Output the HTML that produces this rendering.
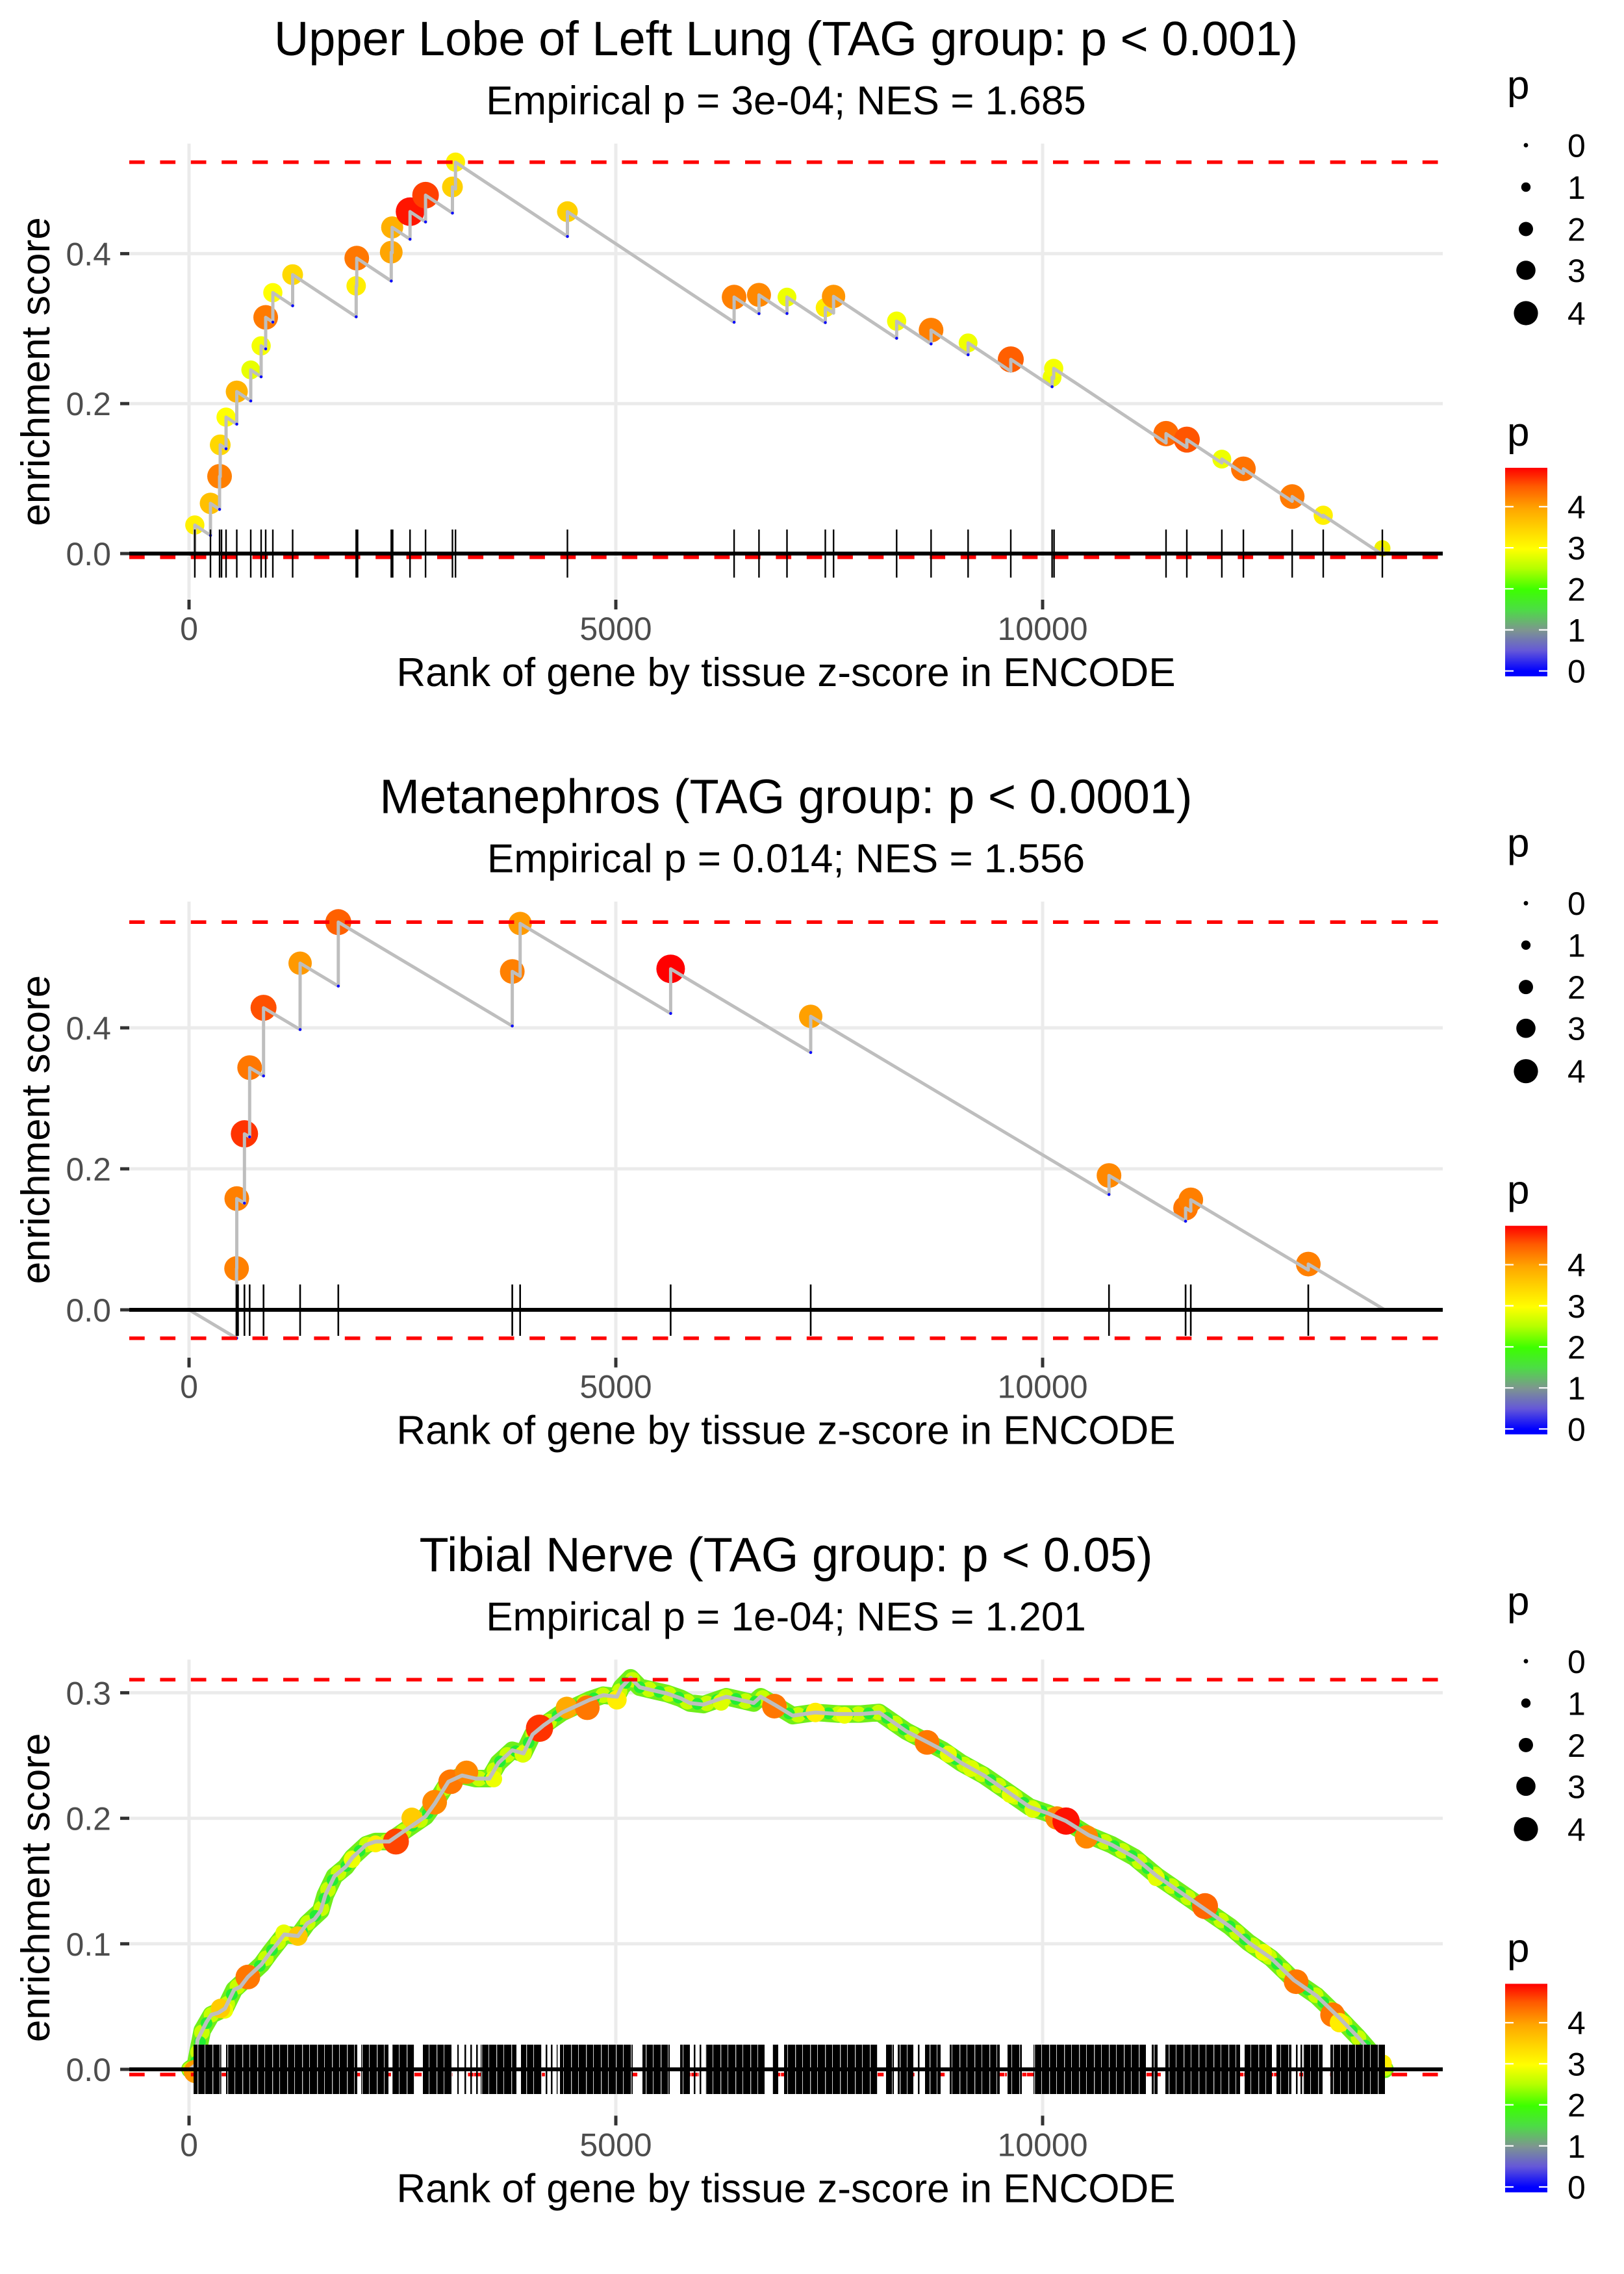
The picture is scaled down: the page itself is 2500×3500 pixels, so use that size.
<!DOCTYPE html>
<html><head><meta charset="utf-8"><style>
html,body{margin:0;padding:0;background:#fff;}
svg{display:block;font-family:"Liberation Sans",Arial,sans-serif;}
</style></head><body>
<svg width="2500" height="3500" viewBox="0 0 2500 3500" xmlns="http://www.w3.org/2000/svg">
<defs>
<linearGradient id="cb" x1="0" y1="1" x2="0" y2="0">
<stop offset="0" stop-color="#0000FF"/><stop offset="0.025" stop-color="#0000FF"/>
<stop offset="0.1235" stop-color="#6558D8"/><stop offset="0.22" stop-color="#7D9590"/>
<stop offset="0.3205" stop-color="#4CDD44"/><stop offset="0.415" stop-color="#3CFF00"/>
<stop offset="0.5175" stop-color="#B5FF00"/><stop offset="0.61" stop-color="#FFFF00"/>
<stop offset="0.7144" stop-color="#FFD000"/><stop offset="0.805" stop-color="#FFA500"/>
<stop offset="0.9113" stop-color="#FF5A00"/><stop offset="1" stop-color="#FF0000"/>
</linearGradient>
<pattern id="wl" patternUnits="userSpaceOnUse" x="0" y="0" width="23" height="200">
<rect x="5" y="0" width="1.3" height="200" fill="#fff"/><rect x="16" y="0" width="1" height="200" fill="#fff"/>
</pattern>
</defs>
<rect width="2500" height="3500" fill="#fff"/>

<!-- ================= TITLES ================= -->
<g>
<text x="1210" y="85" font-size="74" text-anchor="middle" fill="#000">Upper Lobe of Left Lung (TAG group: p &lt; 0.001)</text>
<text x="1210" y="176" font-size="62" text-anchor="middle" fill="#000">Empirical p = 3e-04; NES = 1.685</text>
</g>
<g transform="translate(0,1166.67)">
<text x="1210" y="85" font-size="74" text-anchor="middle" fill="#000">Metanephros (TAG group: p &lt; 0.0001)</text>
<text x="1210" y="176" font-size="62" text-anchor="middle" fill="#000">Empirical p = 0.014; NES = 1.556</text>
</g>
<g transform="translate(0,2333.33)">
<text x="1210" y="85" font-size="74" text-anchor="middle" fill="#000">Tibial Nerve (TAG group: p &lt; 0.05)</text>
<text x="1210" y="176" font-size="62" text-anchor="middle" fill="#000">Empirical p = 1e-04; NES = 1.201</text>
</g>

<!-- vertical gridlines -->
<g stroke="#EBEBEB" stroke-width="5">
<g transform="translate(0,0)">
<line x1="291" y1="221" x2="291" y2="923"/><line x1="948" y1="221" x2="948" y2="923"/><line x1="1605" y1="221" x2="1605" y2="923"/>
</g>
<g transform="translate(0,1166.67)">
<line x1="291" y1="221" x2="291" y2="923"/><line x1="948" y1="221" x2="948" y2="923"/><line x1="1605" y1="221" x2="1605" y2="923"/>
</g>
<g transform="translate(0,2333.33)">
<line x1="291" y1="221" x2="291" y2="923"/><line x1="948" y1="221" x2="948" y2="923"/><line x1="1605" y1="221" x2="1605" y2="923"/>
</g>
</g>

<!-- horizontal gridlines + y labels -->
<g stroke="#EBEBEB" stroke-width="5">
<line x1="199" y1="852" x2="2221" y2="852"/><line x1="199" y1="621.2" x2="2221" y2="621.2"/><line x1="199" y1="390.4" x2="2221" y2="390.4"/>
<line x1="199" y1="2016" x2="2221" y2="2016"/><line x1="199" y1="1799" x2="2221" y2="1799"/><line x1="199" y1="1582" x2="2221" y2="1582"/>
<line x1="199" y1="3185" x2="2221" y2="3185"/><line x1="199" y1="2991.8" x2="2221" y2="2991.8"/><line x1="199" y1="2798.6" x2="2221" y2="2798.6"/><line x1="199" y1="2605.4" x2="2221" y2="2605.4"/>
</g>
<g stroke="#333333" stroke-width="5">
<line x1="185" y1="852" x2="199" y2="852"/><line x1="185" y1="621.2" x2="199" y2="621.2"/><line x1="185" y1="390.4" x2="199" y2="390.4"/>
<line x1="185" y1="2016" x2="199" y2="2016"/><line x1="185" y1="1799" x2="199" y2="1799"/><line x1="185" y1="1582" x2="199" y2="1582"/>
<line x1="185" y1="3185" x2="199" y2="3185"/><line x1="185" y1="2991.8" x2="199" y2="2991.8"/><line x1="185" y1="2798.6" x2="199" y2="2798.6"/><line x1="185" y1="2605.4" x2="199" y2="2605.4"/>
</g>
<g font-size="50" fill="#4D4D4D" text-anchor="end">
<text x="171" y="870">0.0</text><text x="171" y="639.2">0.2</text><text x="171" y="408.4">0.4</text>
<text x="171" y="2034">0.0</text><text x="171" y="1817">0.2</text><text x="171" y="1600">0.4</text>
<text x="171" y="3203">0.0</text><text x="171" y="3009.8">0.1</text><text x="171" y="2816.6">0.2</text><text x="171" y="2623.4">0.3</text>
</g>

<!-- ================= PANEL 1 DATA ================= -->
<g>
<g>
<circle cx="299.9" cy="808.1" r="14.8" fill="#FFF000"/>
<circle cx="324.0" cy="774.7" r="16.5" fill="#FFC000"/>
<circle cx="338.0" cy="733.1" r="19" fill="#FF7F00"/>
<circle cx="339.0" cy="684.7" r="16" fill="#FFD700"/>
<circle cx="348.0" cy="642.0" r="14.8" fill="#FFFF00"/>
<circle cx="364.5" cy="602.7" r="17" fill="#FFB300"/>
<circle cx="386.0" cy="569.3" r="14.5" fill="#E8FF00"/>
<circle cx="402.0" cy="532.3" r="14.8" fill="#F5FF00"/>
<circle cx="409.0" cy="488.5" r="19" fill="#FF7A00"/>
<circle cx="420.0" cy="450.4" r="14.8" fill="#FFFF00"/>
<circle cx="450.5" cy="422.7" r="16" fill="#FFD900"/>
<circle cx="548.3" cy="440.0" r="15" fill="#FFEE00"/>
<circle cx="549.2" cy="397.3" r="19" fill="#FF7700"/>
<circle cx="602.3" cy="388.1" r="17.5" fill="#FFA500"/>
<circle cx="603.7" cy="350.0" r="17" fill="#FFB000"/>
<circle cx="631.2" cy="325.8" r="22" fill="#FF1500"/>
<circle cx="655.1" cy="300.4" r="20.5" fill="#FF4000"/>
<circle cx="696.5" cy="287.7" r="16" fill="#FFD000"/>
<circle cx="701.2" cy="249.6" r="14.8" fill="#FFF000"/>
<circle cx="873.5" cy="325.8" r="16" fill="#FFD000"/>
<circle cx="1130.1" cy="457.3" r="19" fill="#FF8000"/>
<circle cx="1168.4" cy="453.9" r="18.5" fill="#FF8800"/>
<circle cx="1211.5" cy="457.3" r="14.5" fill="#EEFF00"/>
<circle cx="1270.5" cy="473.5" r="14.8" fill="#FFEE00"/>
<circle cx="1283.2" cy="456.2" r="18" fill="#FF9500"/>
<circle cx="1380.3" cy="494.3" r="14.8" fill="#F5FF00"/>
<circle cx="1433.3" cy="508.1" r="19" fill="#FF7F00"/>
<circle cx="1490.3" cy="527.7" r="14.5" fill="#F0FF00"/>
<circle cx="1556.0" cy="553.1" r="20" fill="#FF5F00"/>
<circle cx="1619.6" cy="580.8" r="14.5" fill="#EEFF00"/>
<circle cx="1622.1" cy="567.0" r="14.8" fill="#F5FF00"/>
<circle cx="1795.0" cy="667.4" r="19.5" fill="#FF6A00"/>
<circle cx="1827.0" cy="676.6" r="20" fill="#FF5500"/>
<circle cx="1880.9" cy="706.6" r="14.5" fill="#EEFF00"/>
<circle cx="1914.1" cy="721.6" r="19" fill="#FF7200"/>
<circle cx="1989.2" cy="764.3" r="19" fill="#FF7A00"/>
<circle cx="2037.0" cy="793.1" r="14.8" fill="#FFF000"/>
<circle cx="2128.0" cy="843.9" r="12.5" fill="#F0F000"/>
</g>
<path d="M291,852 L299.9,857.9 L299.9,808.1 L324.0,824.1 L324.0,774.7 L338.0,784.0 L338.0,733.1 L339.0,733.7 L339.0,684.7 L348.0,690.7 L348.0,642.0 L364.5,652.8 L364.5,602.7 L386.0,617.1 L386.0,569.3 L402.0,579.9 L402.0,532.3 L409.0,537.0 L409.0,488.5 L420.0,495.8 L420.0,450.4 L450.5,470.6 L450.5,422.7 L548.3,487.6 L548.3,440.0 L549.2,440.6 L549.2,397.3 L602.3,432.5 L602.3,388.1 L603.7,389.0 L603.7,350.0 L631.2,368.2 L631.2,325.8 L655.1,341.6 L655.1,300.4 L696.5,327.9 L696.5,287.7 L701.2,290.8 L701.2,249.6 L873.5,363.9 L873.5,325.8 L1130.1,496.0 L1130.1,457.3 L1168.4,482.7 L1168.4,453.9 L1211.5,482.5 L1211.5,457.3 L1270.5,496.5 L1270.5,473.5 L1283.2,481.9 L1283.2,456.2 L1380.3,520.6 L1380.3,494.3 L1433.3,529.3 L1433.3,508.1 L1490.3,546.0 L1490.3,527.7 L1556.0,571.4 L1556.0,553.1 L1619.6,595.2 L1619.6,580.8 L1622.1,582.4 L1622.1,567.0 L1795.0,681.7 L1795.0,667.4 L1827.0,688.5 L1827.0,676.6 L1880.9,712.4 L1880.9,706.6 L1914.1,728.5 L1914.1,721.6 L1989.2,771.5 L1989.2,764.3 L2037.0,796.0 L2037.0,793.1 L2128.0,853.4 L2128.0,843.9 L2129.5,852" fill="none" stroke="#BEBEBE" stroke-width="5" stroke-linejoin="round"/>
<g fill="#0000FF">
<circle cx="324" cy="824.1" r="2.2"/><circle cx="338" cy="784" r="2.2"/><circle cx="348" cy="690.7" r="2.2"/><circle cx="364.5" cy="652.8" r="2.2"/><circle cx="386" cy="617.1" r="2.2"/><circle cx="402" cy="579.9" r="2.2"/><circle cx="409" cy="537" r="2.2"/><circle cx="420" cy="495.8" r="2.2"/><circle cx="450.5" cy="470.6" r="2.2"/><circle cx="548.3" cy="487.6" r="2.2"/><circle cx="602.3" cy="432.5" r="2.2"/><circle cx="631.2" cy="368.2" r="2.2"/><circle cx="655.1" cy="341.6" r="2.2"/><circle cx="696.5" cy="327.9" r="2.2"/><circle cx="873.5" cy="363.9" r="2.2"/><circle cx="1130.1" cy="496" r="2.2"/><circle cx="1168.4" cy="482.7" r="2.2"/><circle cx="1211.5" cy="482.5" r="2.2"/><circle cx="1270.5" cy="496.5" r="2.2"/><circle cx="1380.3" cy="520.6" r="2.2"/><circle cx="1433.3" cy="529.3" r="2.2"/><circle cx="1490.3" cy="546" r="2.2"/><circle cx="1619.6" cy="595.2" r="2.2"/>
</g>
<line x1="199" y1="249.6" x2="2221" y2="249.6" stroke="#FF0000" stroke-width="5.5" stroke-dasharray="23.7 23.7"/>
<line x1="199" y1="857.8" x2="2221" y2="857.8" stroke="#FF0000" stroke-width="5.5" stroke-dasharray="23.7 23.7"/>
<path d="M299.9,815V889 M324,815V889 M338,815V889 M341,815V889 M348,815V889 M364.5,815V889 M386,815V889 M402,815V889 M409,815V889 M420,815V889 M450.5,815V889 M548.3,815V889 M550.5,815V889 M602.3,815V889 M604.5,815V889 M631.2,815V889 M655.1,815V889 M696.5,815V889 M701.2,815V889 M873.5,815V889 M1130.1,815V889 M1168.4,815V889 M1211.5,815V889 M1270.5,815V889 M1283.2,815V889 M1380.3,815V889 M1433.3,815V889 M1490.3,815V889 M1556,815V889 M1619.6,815V889 M1622.6,815V889 M1795,815V889 M1827,815V889 M1880.9,815V889 M1914.1,815V889 M1989.2,815V889 M2037,815V889 M2128,815V889" stroke="#000" stroke-width="2.4" fill="none"/>
<line x1="199" y1="852" x2="2221" y2="852" stroke="#000" stroke-width="6"/>
</g>

<!-- ================= PANEL 2 DATA ================= -->
<g>
<g>
<circle cx="364.2" cy="1952.4" r="19" fill="#FF8000"/>
<circle cx="364.5" cy="1844.8" r="19" fill="#FF7F00"/>
<circle cx="376.3" cy="1745.1" r="21" fill="#FF3300"/>
<circle cx="384.3" cy="1643.2" r="19" fill="#FF7700"/>
<circle cx="405.7" cy="1551.1" r="20" fill="#FF5000"/>
<circle cx="462.0" cy="1482.5" r="18" fill="#FF9900"/>
<circle cx="520.8" cy="1419.3" r="20" fill="#FF6000"/>
<circle cx="788.6" cy="1495.2" r="19" fill="#FF8000"/>
<circle cx="800.7" cy="1421.4" r="18" fill="#FF9A00"/>
<circle cx="1032.4" cy="1491.2" r="22" fill="#FF0000"/>
<circle cx="1248.0" cy="1564.3" r="18" fill="#FFA000"/>
<circle cx="1707.2" cy="1809.2" r="19" fill="#FF8800"/>
<circle cx="1825.1" cy="1859.4" r="19" fill="#FF7700"/>
<circle cx="1833.1" cy="1846.7" r="19" fill="#FF7F00"/>
<circle cx="2014.0" cy="1945.6" r="19" fill="#FF7F00"/>
</g>
<path d="M291,2016 L364.2,2059.7 L364.2,1952.4 L364.5,1952.5 L364.5,1844.8 L376.3,1851.8 L376.3,1745.1 L384.3,1749.8 L384.3,1643.2 L405.7,1656.0 L405.7,1551.1 L462.0,1584.6 L462.0,1482.5 L520.8,1517.7 L520.8,1419.3 L788.6,1579.1 L788.6,1495.2 L800.7,1502.5 L800.7,1421.4 L1032.4,1559.8 L1032.4,1491.2 L1248.0,1619.9 L1248.0,1564.3 L1707.2,1838.5 L1707.2,1809.2 L1825.1,1879.6 L1825.1,1859.4 L1833.1,1864.2 L1833.1,1846.7 L2014.0,1954.7 L2014.0,1945.6 L2131.8,2016" fill="none" stroke="#BEBEBE" stroke-width="5" stroke-linejoin="round"/>
<g fill="#0000FF">
<circle cx="364.2" cy="2059.7" r="2.2"/><circle cx="376.3" cy="1851.8" r="2.2"/><circle cx="384.3" cy="1749.8" r="2.2"/><circle cx="405.7" cy="1656" r="2.2"/><circle cx="462" cy="1584.6" r="2.2"/><circle cx="520.8" cy="1517.7" r="2.2"/><circle cx="788.6" cy="1579.1" r="2.2"/><circle cx="1032.4" cy="1559.8" r="2.2"/><circle cx="1248" cy="1619.9" r="2.2"/><circle cx="1707.2" cy="1838.5" r="2.2"/><circle cx="1825.1" cy="1879.6" r="2.2"/>
</g>
<line x1="199" y1="1419.3" x2="2221" y2="1419.3" stroke="#FF0000" stroke-width="5.5" stroke-dasharray="23.7 23.7"/>
<line x1="199" y1="2059.7" x2="2221" y2="2059.7" stroke="#FF0000" stroke-width="5.5" stroke-dasharray="23.7 23.7"/>
<path d="M364.2,1977V2056 M366.4,1977V2056 M376.3,1977V2056 M384.3,1977V2056 M405.7,1977V2056 M462,1977V2056 M520.8,1977V2056 M788.6,1977V2056 M800.7,1977V2056 M1032.4,1977V2056 M1248,1977V2056 M1707.2,1977V2056 M1825.1,1977V2056 M1833.1,1977V2056 M2014,1977V2056" stroke="#000" stroke-width="2.6" fill="none"/>
<line x1="199" y1="2016" x2="2221" y2="2016" stroke="#000" stroke-width="6"/>
</g>

<!-- ================= PANEL 3 DATA ================= -->
<g>
<polyline points="292.4,3184.9 300.8,3178.6 311.3,3125.3 325.4,3101.0 346.4,3091.3 360.5,3062.3 381.5,3042.9 402.5,3023.5 416.6,3004.1 437.6,2977.4 458.7,2979.9 472.7,2960.5 493.7,2941.1 500.8,2916.8 514.8,2887.8 532.3,2873.2 542.8,2858.7 563.9,2839.3 577.9,2834.4 599.0,2834.4 613.0,2824.7 634.0,2810.2 655.1,2795.7 669.1,2776.3 690.2,2742.4 711.2,2732.7 732.2,2737.5 753.3,2737.5 767.3,2713.3 788.4,2693.9 805.9,2698.7 819.9,2669.6 837.5,2655.1 851.5,2645.4 865.5,2635.7 886.6,2626.0 907.6,2616.3 928.7,2609.1 949.7,2611.5 956.7,2596.9 970.8,2582.4 984.8,2596.9 1005.8,2601.8 1026.9,2606.6 1047.9,2613.9 1061.9,2621.2 1083.0,2623.6 1104.0,2616.3 1118.1,2611.5 1139.1,2616.3 1160.2,2621.2 1171.0,2611.5 1192.1,2623.6 1220.2,2640.6 1255.2,2635.7 1290.3,2638.1 1325.4,2638.1 1353.4,2635.7 1374.5,2650.3 1395.5,2664.8 1423.6,2679.3 1451.6,2693.9 1479.7,2713.3 1514.8,2732.7 1549.9,2756.9 1584.9,2781.1 1613.0,2790.8 1641.1,2802.9 1676.1,2824.7 1711.2,2839.3 1746.3,2858.7 1781.4,2887.8 1809.4,2907.1 1837.5,2926.5 1865.5,2945.9 1893.6,2965.3 1921.7,2989.5 1956.7,3013.8 1991.8,3047.7 2026.9,3071.9 2062.0,3105.9 2090.0,3135.0 2111.1,3159.2 2132.1,3184.9" fill="none" stroke="#6FEE1A" stroke-width="27" stroke-linejoin="round" stroke-linecap="round"/>
<polyline points="292.4,3184.9 300.8,3178.6 311.3,3125.3 325.4,3101.0 346.4,3091.3 360.5,3062.3 381.5,3042.9 402.5,3023.5 416.6,3004.1 437.6,2977.4 458.7,2979.9 472.7,2960.5 493.7,2941.1 500.8,2916.8 514.8,2887.8 532.3,2873.2 542.8,2858.7 563.9,2839.3 577.9,2834.4 599.0,2834.4 613.0,2824.7 634.0,2810.2 655.1,2795.7 669.1,2776.3 690.2,2742.4 711.2,2732.7 732.2,2737.5 753.3,2737.5 767.3,2713.3 788.4,2693.9 805.9,2698.7 819.9,2669.6 837.5,2655.1 851.5,2645.4 865.5,2635.7 886.6,2626.0 907.6,2616.3 928.7,2609.1 949.7,2611.5 956.7,2596.9 970.8,2582.4 984.8,2596.9 1005.8,2601.8 1026.9,2606.6 1047.9,2613.9 1061.9,2621.2 1083.0,2623.6 1104.0,2616.3 1118.1,2611.5 1139.1,2616.3 1160.2,2621.2 1171.0,2611.5 1192.1,2623.6 1220.2,2640.6 1255.2,2635.7 1290.3,2638.1 1325.4,2638.1 1353.4,2635.7 1374.5,2650.3 1395.5,2664.8 1423.6,2679.3 1451.6,2693.9 1479.7,2713.3 1514.8,2732.7 1549.9,2756.9 1584.9,2781.1 1613.0,2790.8 1641.1,2802.9 1676.1,2824.7 1711.2,2839.3 1746.3,2858.7 1781.4,2887.8 1809.4,2907.1 1837.5,2926.5 1865.5,2945.9 1893.6,2965.3 1921.7,2989.5 1956.7,3013.8 1991.8,3047.7 2026.9,3071.9 2062.0,3105.9 2090.0,3135.0 2111.1,3159.2 2132.1,3184.9" fill="none" stroke="#C8FF00" stroke-width="24" stroke-dasharray="0 31" stroke-linecap="round"/>
<polyline points="292.4,3184.9 300.8,3178.6 311.3,3125.3 325.4,3101.0 346.4,3091.3 360.5,3062.3 381.5,3042.9 402.5,3023.5 416.6,3004.1 437.6,2977.4 458.7,2979.9 472.7,2960.5 493.7,2941.1 500.8,2916.8 514.8,2887.8 532.3,2873.2 542.8,2858.7 563.9,2839.3 577.9,2834.4 599.0,2834.4 613.0,2824.7 634.0,2810.2 655.1,2795.7 669.1,2776.3 690.2,2742.4 711.2,2732.7 732.2,2737.5 753.3,2737.5 767.3,2713.3 788.4,2693.9 805.9,2698.7 819.9,2669.6 837.5,2655.1 851.5,2645.4 865.5,2635.7 886.6,2626.0 907.6,2616.3 928.7,2609.1 949.7,2611.5 956.7,2596.9 970.8,2582.4 984.8,2596.9 1005.8,2601.8 1026.9,2606.6 1047.9,2613.9 1061.9,2621.2 1083.0,2623.6 1104.0,2616.3 1118.1,2611.5 1139.1,2616.3 1160.2,2621.2 1171.0,2611.5 1192.1,2623.6 1220.2,2640.6 1255.2,2635.7 1290.3,2638.1 1325.4,2638.1 1353.4,2635.7 1374.5,2650.3 1395.5,2664.8 1423.6,2679.3 1451.6,2693.9 1479.7,2713.3 1514.8,2732.7 1549.9,2756.9 1584.9,2781.1 1613.0,2790.8 1641.1,2802.9 1676.1,2824.7 1711.2,2839.3 1746.3,2858.7 1781.4,2887.8 1809.4,2907.1 1837.5,2926.5 1865.5,2945.9 1893.6,2965.3 1921.7,2989.5 1956.7,3013.8 1991.8,3047.7 2026.9,3071.9 2062.0,3105.9 2090.0,3135.0 2111.1,3159.2 2132.1,3184.9" fill="none" stroke="#22EE33" stroke-width="18" stroke-dasharray="0 31" stroke-dashoffset="15" stroke-linecap="round"/>
<g>
<circle cx="346" cy="3094" r="13" fill="#EEFF00"/><circle cx="437" cy="2975" r="13" fill="#E8FF00"/><circle cx="542" cy="2862" r="13" fill="#EEFF00"/><circle cx="578" cy="2838" r="13" fill="#FFF000"/><circle cx="760" cy="2738" r="13" fill="#EEFF00"/><circle cx="1300" cy="2640" r="13" fill="#EEFF00"/><circle cx="1460" cy="2700" r="13" fill="#E5FF00"/><circle cx="1495" cy="2722" r="13" fill="#DDFF00"/><circle cx="1555" cy="2762" r="13" fill="#E5FF00"/><circle cx="1590" cy="2785" r="13" fill="#DDFF00"/><circle cx="1780" cy="2890" r="13" fill="#E5FF00"/><circle cx="1945" cy="3005" r="13" fill="#EEFF00"/><circle cx="805" cy="2700" r="13" fill="#DDFF00"/><circle cx="1110" cy="2620" r="13" fill="#DDFF00"/>
<circle cx="300.8" cy="3188.3" r="18" fill="#FF9900"/>
<circle cx="339.4" cy="3091.3" r="15" fill="#FFCC00"/>
<circle cx="381.5" cy="3042.9" r="19" fill="#FF7700"/>
<circle cx="458.7" cy="2979.9" r="15" fill="#FFC800"/>
<circle cx="609.5" cy="2834.4" r="20" fill="#FF4400"/>
<circle cx="634.0" cy="2798.1" r="16" fill="#FFCC00"/>
<circle cx="669.1" cy="2773.9" r="19" fill="#FF8800"/>
<circle cx="693.7" cy="2742.4" r="19" fill="#FF7700"/>
<circle cx="718.2" cy="2727.8" r="18" fill="#FF8800"/>
<circle cx="830.5" cy="2660.0" r="21" fill="#FF3300"/>
<circle cx="872.5" cy="2628.4" r="17" fill="#FFAA00"/>
<circle cx="904.1" cy="2628.4" r="19" fill="#FF7700"/>
<circle cx="949.7" cy="2616.3" r="15" fill="#FFEE00"/>
<circle cx="1192.1" cy="2626.0" r="19" fill="#FF7700"/>
<circle cx="1255.2" cy="2635.7" r="15" fill="#FFEE00"/>
<circle cx="1427.1" cy="2681.8" r="19" fill="#FF7700"/>
<circle cx="1627.0" cy="2798.1" r="18" fill="#FF8800"/>
<circle cx="1641.1" cy="2802.9" r="21" fill="#FF1100"/>
<circle cx="1672.6" cy="2827.2" r="18" fill="#FF8800"/>
<circle cx="1855.0" cy="2933.8" r="20" fill="#FF6600"/>
<circle cx="1995.3" cy="3050.1" r="19" fill="#FF7700"/>
<circle cx="2051.4" cy="3101.0" r="19" fill="#FF7700"/>
<circle cx="2062.0" cy="3113.1" r="15" fill="#FFEE00"/>
<circle cx="2128.6" cy="3176.2" r="14" fill="#FFEE00"/>
</g>
<polyline points="292.4,3184.9 300.8,3178.6 304,3140 311.3,3125.3 318,3112 325.4,3101.0 336,3098 346.4,3091.3 360.5,3062.3 370,3058 381.5,3042.9 402.5,3023.5 416.6,3004.1 425,2994 437.6,2977.4 458.7,2979.9 472.7,2960.5 484,2954 493.7,2941.1 500.8,2916.8 514.8,2887.8 532.3,2873.2 542.8,2858.7 563.9,2839.3 577.9,2834.4 599.0,2834.4 613.0,2824.7 634.0,2810.2 655.1,2795.7 669.1,2776.3 690.2,2742.4 711.2,2732.7 732.2,2737.5 753.3,2737.5 767.3,2713.3 788.4,2693.9 805.9,2698.7 819.9,2669.6 837.5,2655.1 851.5,2645.4 865.5,2635.7 886.6,2626.0 907.6,2616.3 928.7,2609.1 949.7,2611.5 956.7,2596.9 970.8,2582.4 984.8,2596.9 1005.8,2601.8 1026.9,2606.6 1047.9,2613.9 1061.9,2621.2 1083.0,2623.6 1104.0,2616.3 1118.1,2611.5 1139.1,2616.3 1160.2,2621.2 1171.0,2611.5 1192.1,2623.6 1220.2,2640.6 1255.2,2635.7 1290.3,2638.1 1325.4,2638.1 1353.4,2635.7 1374.5,2650.3 1395.5,2664.8 1423.6,2679.3 1451.6,2693.9 1479.7,2713.3 1514.8,2732.7 1549.9,2756.9 1584.9,2781.1 1613.0,2790.8 1641.1,2802.9 1676.1,2824.7 1711.2,2839.3 1746.3,2858.7 1781.4,2887.8 1809.4,2907.1 1837.5,2926.5 1865.5,2945.9 1893.6,2965.3 1921.7,2989.5 1956.7,3013.8 1991.8,3047.7 2026.9,3071.9 2062.0,3105.9 2090.0,3135.0 2111.1,3159.2 2132.1,3184.9" fill="none" stroke="#BEBEBE" stroke-width="6" stroke-linejoin="round"/>
<line x1="199" y1="2585.3" x2="2221" y2="2585.3" stroke="#FF0000" stroke-width="5.5" stroke-dasharray="23.7 23.7"/>
<line x1="199" y1="3193" x2="2221" y2="3193" stroke="#FF0000" stroke-width="5.5" stroke-dasharray="23.7 23.7"/>
<!-- rug: dense black blocks separated by gaps -->
<g fill="#000">
<rect x="298" y="3147" width="42.6" height="76"/>
<rect x="348" y="3147" width="202" height="76"/>
<rect x="556" y="3147" width="42" height="76"/>
<rect x="604" y="3147" width="33.6" height="76"/>
<rect x="651" y="3147" width="44" height="76"/>
<rect x="704" y="3147" width="3" height="76"/>
<rect x="740" y="3147" width="55" height="76"/>
<rect x="802" y="3147" width="32" height="76"/>
<rect x="862" y="3147" width="112" height="76"/>
<rect x="989" y="3147" width="42" height="76"/>
<rect x="1047" y="3147" width="15" height="76"/>
<rect x="1086" y="3147" width="91" height="76"/>
<rect x="1189" y="3147" width="9" height="76"/>
<rect x="1207" y="3147" width="144" height="76"/>
<rect x="1364" y="3147" width="12" height="76"/>
<rect x="1382" y="3147" width="24" height="76"/>
<rect x="1424" y="3147" width="24" height="76"/>
<rect x="1462" y="3147" width="77" height="76"/>
<rect x="1551" y="3147" width="22" height="76"/>
<rect x="1591" y="3147" width="173" height="76"/>
<rect x="1773" y="3147" width="9" height="76"/>
<rect x="1794" y="3147" width="115" height="76"/>
<rect x="1916" y="3147" width="42" height="76"/>
<rect x="1965" y="3147" width="23" height="76"/>
<rect x="2006" y="3147" width="30" height="76"/>
<rect x="2048" y="3147" width="84" height="76"/>
<rect x="715" y="3147" width="2.5" height="76"/><rect x="724" y="3147" width="2.5" height="76"/><rect x="733" y="3147" width="2.5" height="76"/>
<rect x="840" y="3147" width="2.5" height="76"/><rect x="848" y="3147" width="2.5" height="76"/><rect x="856" y="3147" width="2.5" height="76"/>
<rect x="1068" y="3147" width="2.5" height="76"/><rect x="1077" y="3147" width="2.5" height="76"/>
<rect x="1413" y="3147" width="2.5" height="76"/>
<rect x="1995" y="3147" width="2.5" height="76"/><rect x="2002" y="3147" width="2.5" height="76"/>
</g>
<rect x="298" y="3147" width="1834" height="76" fill="url(#wl)" opacity="0.8"/>
<line x1="199" y1="3185" x2="2221" y2="3185" stroke="#000" stroke-width="6"/>
</g>

<!-- ================= AXES TEXT + LEGENDS (per subplot) ================= -->
<g>
<g transform="translate(0,0)">
<g stroke="#333333" stroke-width="5"><line x1="291" y1="923" x2="291" y2="938"/><line x1="948" y1="923" x2="948" y2="938"/><line x1="1605" y1="923" x2="1605" y2="938"/></g>
<g font-size="50" fill="#4D4D4D" text-anchor="middle"><text x="291" y="985">0</text><text x="948" y="985">5000</text><text x="1605" y="985">10000</text></g>
<text x="1210" y="1056" font-size="62" text-anchor="middle" fill="#000">Rank of gene by tissue z-score in ENCODE</text>
<text transform="translate(76,572) rotate(-90)" font-size="62" text-anchor="middle" fill="#000">enrichment score</text>
<text x="2320" y="152" font-size="62" fill="#000">p</text>
<circle cx="2349" cy="223.5" r="3.4" fill="#000"/><circle cx="2349" cy="288" r="7.2" fill="#000"/><circle cx="2349" cy="352.5" r="11" fill="#000"/><circle cx="2349" cy="416" r="14.8" fill="#000"/><circle cx="2349" cy="482" r="18.6" fill="#000"/>
<g font-size="50" fill="#000"><text x="2413" y="241.5">0</text><text x="2413" y="306">1</text><text x="2413" y="370.5">2</text><text x="2413" y="434">3</text><text x="2413" y="500">4</text></g>
<text x="2320" y="686" font-size="62" fill="#000">p</text>
<rect x="2317" y="720" width="65" height="321" fill="url(#cb)"/>
<g stroke="#fff" stroke-width="2.2"><path d="M2317,1032.7h13M2369,1032.7h13M2317,969.5h13M2369,969.5h13M2317,906.3h13M2369,906.3h13M2317,843.1h13M2369,843.1h13M2317,779.9h13M2369,779.9h13"/></g>
<g font-size="50" fill="#000"><text x="2413" y="1050.7">0</text><text x="2413" y="987.5">1</text><text x="2413" y="924.3">2</text><text x="2413" y="861.1">3</text><text x="2413" y="797.9">4</text></g>
</g>
<g transform="translate(0,1166.67)">
<g stroke="#333333" stroke-width="5"><line x1="291" y1="923" x2="291" y2="938"/><line x1="948" y1="923" x2="948" y2="938"/><line x1="1605" y1="923" x2="1605" y2="938"/></g>
<g font-size="50" fill="#4D4D4D" text-anchor="middle"><text x="291" y="985">0</text><text x="948" y="985">5000</text><text x="1605" y="985">10000</text></g>
<text x="1210" y="1056" font-size="62" text-anchor="middle" fill="#000">Rank of gene by tissue z-score in ENCODE</text>
<text transform="translate(76,572) rotate(-90)" font-size="62" text-anchor="middle" fill="#000">enrichment score</text>
<text x="2320" y="152" font-size="62" fill="#000">p</text>
<circle cx="2349" cy="223.5" r="3.4" fill="#000"/><circle cx="2349" cy="288" r="7.2" fill="#000"/><circle cx="2349" cy="352.5" r="11" fill="#000"/><circle cx="2349" cy="416" r="14.8" fill="#000"/><circle cx="2349" cy="482" r="18.6" fill="#000"/>
<g font-size="50" fill="#000"><text x="2413" y="241.5">0</text><text x="2413" y="306">1</text><text x="2413" y="370.5">2</text><text x="2413" y="434">3</text><text x="2413" y="500">4</text></g>
<text x="2320" y="686" font-size="62" fill="#000">p</text>
<rect x="2317" y="720" width="65" height="321" fill="url(#cb)"/>
<g stroke="#fff" stroke-width="2.2"><path d="M2317,1032.7h13M2369,1032.7h13M2317,969.5h13M2369,969.5h13M2317,906.3h13M2369,906.3h13M2317,843.1h13M2369,843.1h13M2317,779.9h13M2369,779.9h13"/></g>
<g font-size="50" fill="#000"><text x="2413" y="1050.7">0</text><text x="2413" y="987.5">1</text><text x="2413" y="924.3">2</text><text x="2413" y="861.1">3</text><text x="2413" y="797.9">4</text></g>
</g>
<g transform="translate(0,2333.33)">
<g stroke="#333333" stroke-width="5"><line x1="291" y1="923" x2="291" y2="938"/><line x1="948" y1="923" x2="948" y2="938"/><line x1="1605" y1="923" x2="1605" y2="938"/></g>
<g font-size="50" fill="#4D4D4D" text-anchor="middle"><text x="291" y="985">0</text><text x="948" y="985">5000</text><text x="1605" y="985">10000</text></g>
<text x="1210" y="1056" font-size="62" text-anchor="middle" fill="#000">Rank of gene by tissue z-score in ENCODE</text>
<text transform="translate(76,572) rotate(-90)" font-size="62" text-anchor="middle" fill="#000">enrichment score</text>
<text x="2320" y="152" font-size="62" fill="#000">p</text>
<circle cx="2349" cy="223.5" r="3.4" fill="#000"/><circle cx="2349" cy="288" r="7.2" fill="#000"/><circle cx="2349" cy="352.5" r="11" fill="#000"/><circle cx="2349" cy="416" r="14.8" fill="#000"/><circle cx="2349" cy="482" r="18.6" fill="#000"/>
<g font-size="50" fill="#000"><text x="2413" y="241.5">0</text><text x="2413" y="306">1</text><text x="2413" y="370.5">2</text><text x="2413" y="434">3</text><text x="2413" y="500">4</text></g>
<text x="2320" y="686" font-size="62" fill="#000">p</text>
<rect x="2317" y="720" width="65" height="321" fill="url(#cb)"/>
<g stroke="#fff" stroke-width="2.2"><path d="M2317,1032.7h13M2369,1032.7h13M2317,969.5h13M2369,969.5h13M2317,906.3h13M2369,906.3h13M2317,843.1h13M2369,843.1h13M2317,779.9h13M2369,779.9h13"/></g>
<g font-size="50" fill="#000"><text x="2413" y="1050.7">0</text><text x="2413" y="987.5">1</text><text x="2413" y="924.3">2</text><text x="2413" y="861.1">3</text><text x="2413" y="797.9">4</text></g>
</g>
</g>
</svg>
</body></html>
